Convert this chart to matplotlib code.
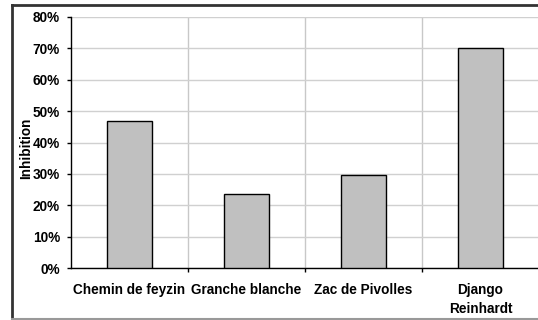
import matplotlib
matplotlib.use("Agg")
import matplotlib.pyplot as plt
from matplotlib.lines import Line2D
from matplotlib.ticker import PercentFormatter, FixedLocator

categories = ["Chemin de feyzin", "Granche blanche", "Zac de Pivolles", "Django\nReinhardt"]
values = [46.7, 23.6, 29.7, 70.2]
yticks = [0, 10, 20, 30, 40, 50, 60, 70, 80]

plt.rcParams['font.family'] = ['Liberation Sans', 'DejaVu Sans']
plt.rcParams['font.weight'] = 'bold'

FS = 9.8
W, H = 538, 320
fig = plt.figure(figsize=(W / 100, H / 100), dpi=100)
ax = fig.add_axes([71 / W, 52 / H, (539 - 71) / W, (268 - 17) / H])

x = list(range(len(categories)))
ax.bar(x, values, width=0.39, color="#c0c0c0", edgecolor="black", linewidth=1.0, zorder=3)

ax.set_xlim(-0.5, len(categories) - 0.5)
ax.set_ylim(0, 80)
ax.set_yticks(yticks)
ax.yaxis.set_major_formatter(PercentFormatter(decimals=0))
ax.set_xticks(x)
ax.set_xticklabels(categories, fontsize=FS, fontweight='bold', linespacing=1.45)
ax.xaxis.set_minor_locator(FixedLocator([0.5, 1.5, 2.5, 3.5]))
ax.tick_params(axis='x', which='major', length=0, pad=11)
ax.tick_params(axis='x', which='minor', length=3, width=1, direction='out', color='black')
ax.tick_params(axis='y', which='major', length=3, width=1, direction='out', labelsize=FS, pad=5)
for lab in ax.get_yticklabels():
    lab.set_fontweight('bold')

ax.grid(True, axis='y', which='major', color="#d0d0d0", linewidth=1.0, zorder=0)
ax.grid(True, axis='x', which='minor', color="#c8c8c8", linewidth=1.0, zorder=0)
ax.set_axisbelow(True)

ax.spines['top'].set_visible(False)
ax.spines['right'].set_visible(False)
ax.spines['left'].set_color('black')
ax.spines['bottom'].set_color('black')
ax.spines['left'].set_linewidth(1.0)
ax.spines['bottom'].set_linewidth(1.0)

fig.text(26 / W, 1 - 148 / H, "Inhibition", rotation=90, ha='center', va='center',
         fontsize=FS, fontweight='bold')

# outer chart frame
fig.add_artist(Line2D([12 / W, 12 / W], [1 - 5 / H, 1 - 319 / H], transform=fig.transFigure, color="#333333", linewidth=2))
fig.add_artist(Line2D([12 / W, 1.0], [1 - 5 / H, 1 - 5 / H], transform=fig.transFigure, color="#333333", linewidth=2))
fig.add_artist(Line2D([12 / W, 1.0], [1 - 319 / H, 1 - 319 / H], transform=fig.transFigure, color="#999999", linewidth=1.5))

fig.savefig("out.png", dpi=100)
